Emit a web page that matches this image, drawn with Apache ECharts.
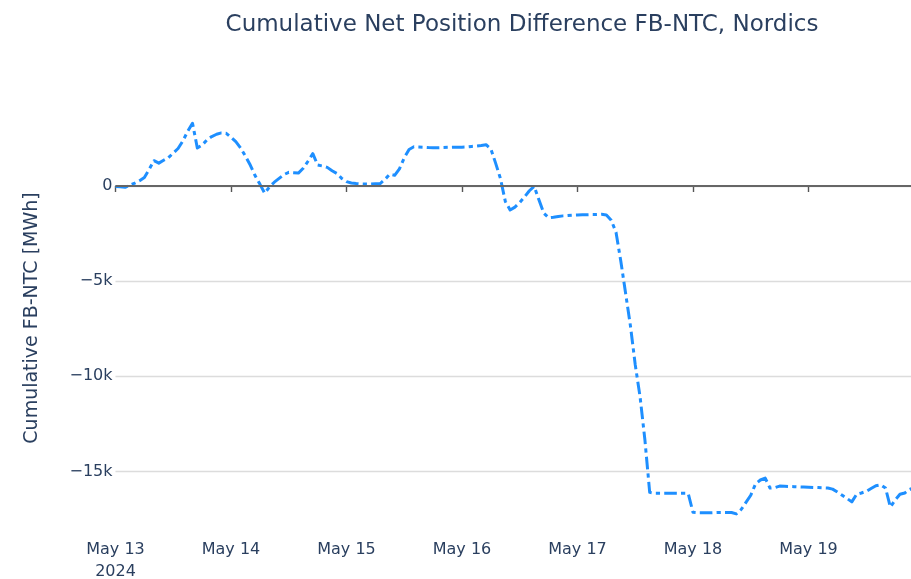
<!DOCTYPE html>
<html>
<head>
<meta charset="utf-8">
<script src="https://cdn.jsdelivr.net/npm/echarts@6/dist/echarts.min.js"></script>
<style>
html,body{margin:0;padding:0;background:#fff;}
#chart{width:911px;height:579px;}
</style>
</head>
<body>
<div id="chart"></div>
<script>
// Hourly cumulative FB-NTC net position difference (MWh), starting 2024-05-13 00:00
const startDate = '2024-05-13 00:00';
const hoursPerDay = 24;
const tickLabels = ['May 13\n2024', 'May 14', 'May 15', 'May 16', 'May 17', 'May 18', 'May 19'];
const yTickLabels = { '0': '0', '-5000': '\u22125k', '-10000': '\u221210k', '-15000': '\u221215k' };
const cumulativeValues = [
  -30, -40, -70, 40, 150, 280, 450, 880, 1330, 1200, 1350, 1490,
  1730, 1970, 2370, 2870, 3300, 2000, 2150, 2420, 2600, 2720, 2790, 2770,
  2560, 2330, 2000, 1570, 1100, 550, 100, -380, -50, 200, 400, 600,
  720, 700, 680, 930, 1300, 1700, 1100, 1050, 980, 800, 660, 400,
  230, 160, 130, 110, 100, 100, 120, 130, 350, 620, 560, 900,
  1480, 1920, 2060, 2050, 2040, 2020, 2010, 2010, 2020, 2030, 2040, 2040,
  2040, 2050, 2080, 2100, 2130, 2170, 1950, 1190, 380, -810, -1260, -1110,
  -870, -570, -250, -20, -740, -1430, -1670, -1640, -1600, -1570, -1550, -1530,
  -1520, -1510, -1510, -1500, -1500, -1490, -1520, -1800, -2430, -3950, -5650, -7350,
  -9400, -11080, -13330, -16100, -16150, -16150, -16150, -16150, -16150, -16150, -16150, -16150,
  -17150, -17170, -17170, -17170, -17170, -17160, -17160, -17160, -17160, -17230, -17000, -16630,
  -16250, -15650, -15450, -15350, -15870, -15850, -15770, -15780, -15790, -15800, -15810, -15820,
  -15830, -15840, -15850, -15860, -15870, -15930, -16080, -16250, -16420, -16600, -16200, -16130,
  -16050, -15900, -15750, -15700, -15870, -16870, -16500, -16200, -16130, -15950, -15850, -15800
];

const seriesData = cumulativeValues.map((v, i) => [i, v]);
const textColor = '#2a3f5f';
const fontFamily = '"DejaVu Sans", Verdana, sans-serif';

const chart = echarts.init(document.getElementById('chart'), null, { renderer: 'canvas' });
chart.setOption({
  animation: false,
  backgroundColor: '#ffffff',
  title: {
    text: 'Cumulative Net Position Difference FB-NTC, Nordics',
    left: 517,
    textAlign: 'center',
    top: 9,
    textStyle: { fontFamily: fontFamily, fontSize: 23, fontWeight: 'normal', color: textColor }
  },
  grid: { left: 115.5, top: 106, width: 803.7, height: 424, containLabel: false, outerBoundsMode: 'none' },
  xAxis: {
    type: 'value',
    min: 0,
    max: cumulativeValues.length - 1,
    interval: hoursPerDay,
    axisLine: { show: false },
    axisTick: { show: true, inside: false, length: 6, lineStyle: { color: '#555', width: 1.4 } },
    splitLine: { show: false },
    axisLabel: {
      margin: 9,
      color: textColor,
      fontFamily: fontFamily,
      fontSize: 16,
      lineHeight: 22,
      showMaxLabel: false,
      formatter: function (v) { const i = Math.round(v / hoursPerDay); return tickLabels[i] || ''; }
    }
  },
  yAxis: {
    type: 'value',
    min: -18077,
    max: 4204,
    splitNumber: 5,
    name: 'Cumulative FB-NTC [MWh]',
    nameLocation: 'middle',
    nameGap: 74,
    nameTextStyle: { fontFamily: fontFamily, fontSize: 19, color: textColor },
    axisLine: { show: false },
    axisTick: { show: false },
    axisLabel: {
      margin: 3,
      color: textColor,
      fontFamily: fontFamily,
      fontSize: 16,
      padding: [4, 0, 0, 0],
      showMinLabel: false,
      showMaxLabel: false,
      formatter: function (v) { return yTickLabels[String(v)] !== undefined ? yTickLabels[String(v)] : ''; }
    },
    splitLine: { show: true, showMinLine: false, showMaxLine: false, lineStyle: { color: '#dcdcdc', width: 1.3 } }
  },
  series: [
    {
      type: 'line',
      data: [],
      z: 1,
      silent: true,
      markLine: {
        silent: true,
        symbol: ['none', 'none'],
        label: { show: false },
        lineStyle: { color: '#666', width: 2, type: 'solid' },
        data: [{ yAxis: 0 }]
      }
    },
    {
      type: 'line',
      z: 3,
      data: seriesData,
      showSymbol: false,
      symbol: 'none',
      smooth: false,
      lineStyle: { color: '#1E8FFF', width: 3, type: [12.6, 4.2, 4.2, 4.2], cap: 'butt', join: 'round' }
    }
  ]
});
</script>
</body>
</html>
